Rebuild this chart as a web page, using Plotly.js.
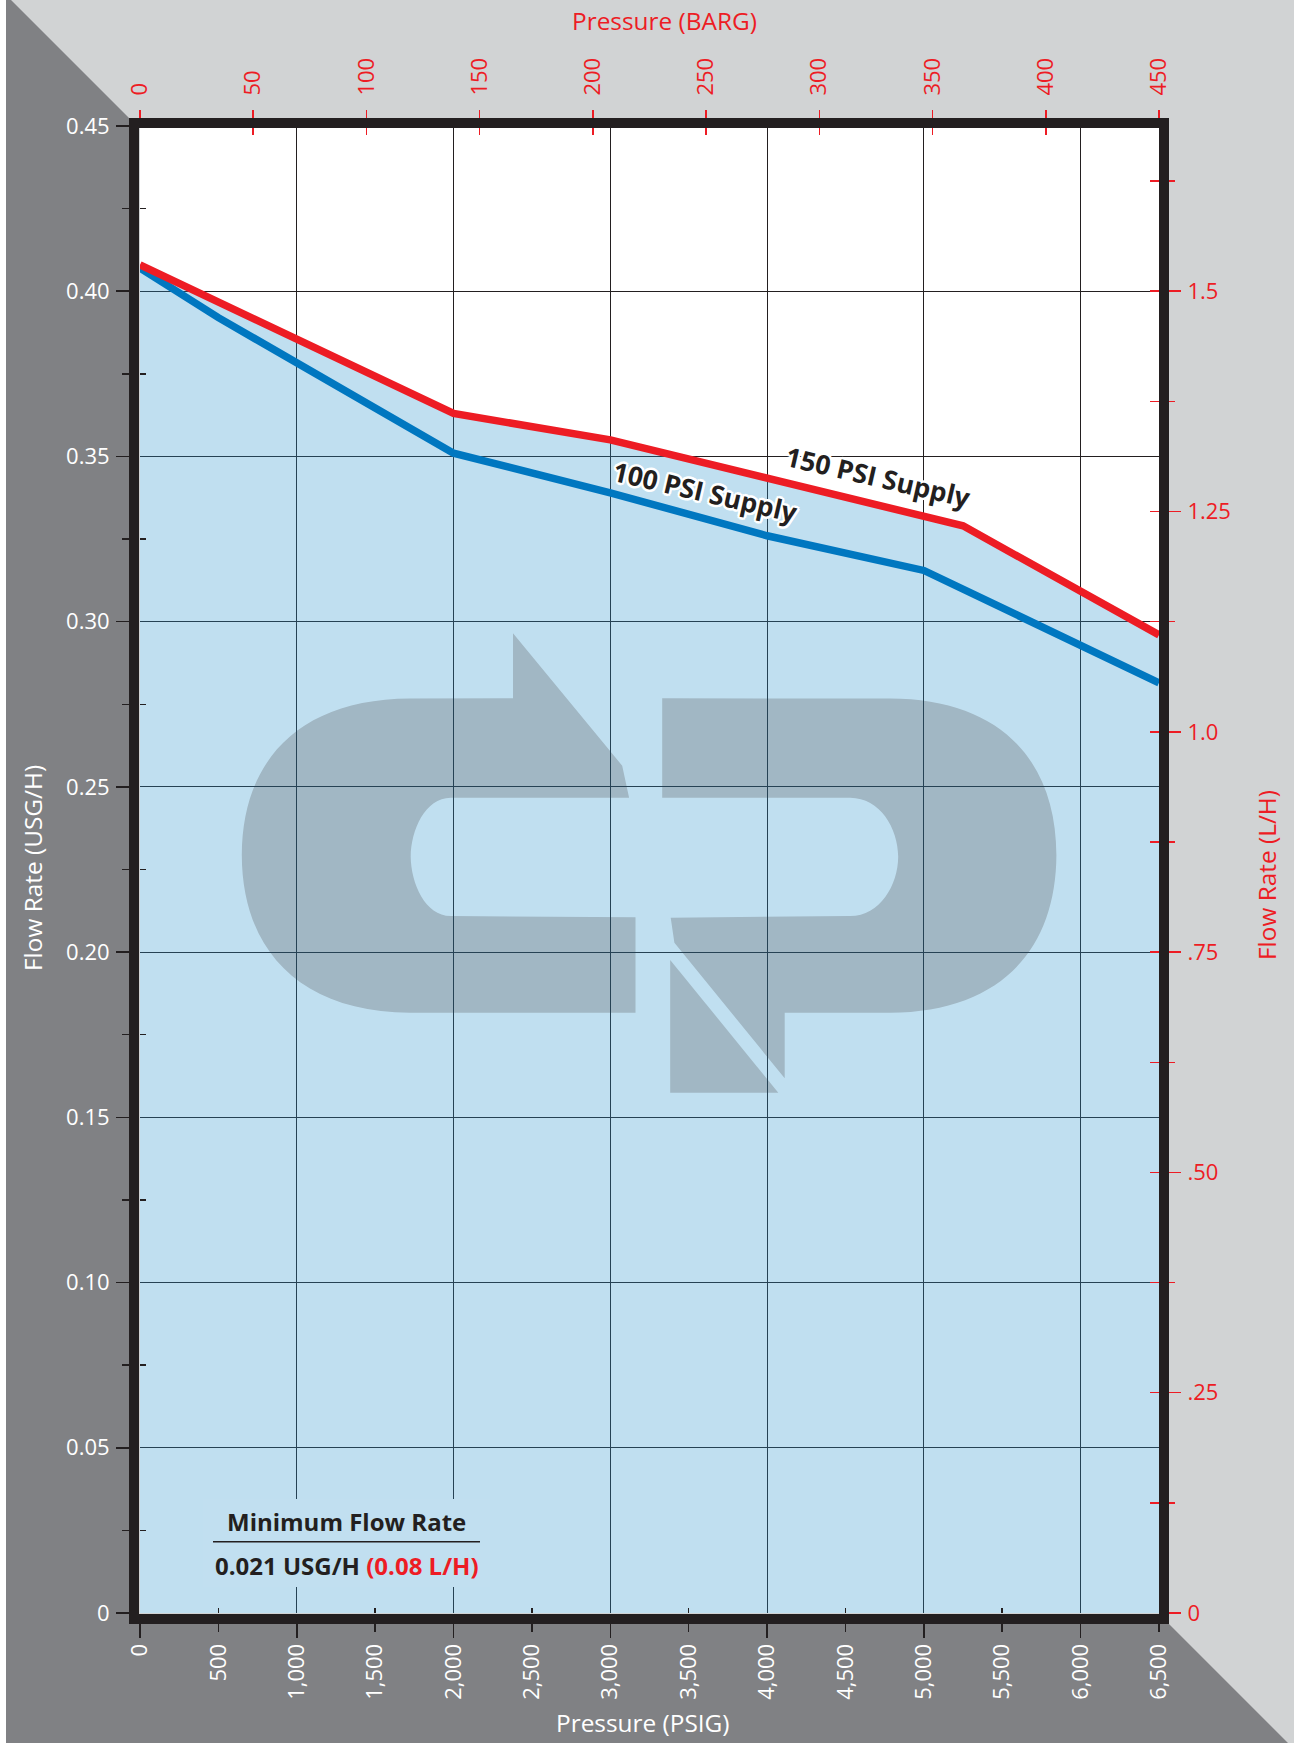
<!DOCTYPE html>
<html>
<head>
<meta charset="utf-8">
<script src="https://cdn.plot.ly/plotly-3.0.1.min.js"></script>
<style>
  html, body { margin: 0; padding: 0; background: #d1d3d4; }
  #chart { width: 1294px; height: 1743px; }
</style>
</head>
<body>
<div id="chart"></div>
<script>
// ---------------- DATA ----------------
const psig150 = [0, 2000, 3000, 5250, 6500];
const flow150 = [0.408, 0.363, 0.355, 0.329, 0.296];

const psig100 = [0, 500, 2000, 3000, 4000, 5000, 6500];
const flow100 = [0.407, 0.392, 0.351, 0.339, 0.326, 0.3155, 0.2815];

const usgTickVals = [0, 0.05, 0.10, 0.15, 0.20, 0.25, 0.30, 0.35, 0.40, 0.45];
const usgTickText = ['0', '0.05', '0.10', '0.15', '0.20', '0.25', '0.30', '0.35', '0.40', '0.45'];
const usgMinorVals = [0.025, 0.075, 0.125, 0.175, 0.225, 0.275, 0.325, 0.375, 0.425];

const psigTickVals = [0, 500, 1000, 1500, 2000, 2500, 3000, 3500, 4000, 4500, 5000, 5500, 6000, 6500];
const psigTickText = ['0', '500', '1,000', '1,500', '2,000', '2,500', '3,000', '3,500', '4,000', '4,500', '5,000', '5,500', '6,000', '6,500'];
const psigGridVals = [0, 1000, 2000, 3000, 4000, 5000, 6000];
const psigMinorVals = [500, 1500, 2500, 3500, 4500, 5500];

const bargTickVals = [0, 50, 100, 150, 200, 250, 300, 350, 400, 450];
const bargTickText = ['0', '50', '100', '150', '200', '250', '300', '350', '400', '450'];

const lphTickVals = [0, 0.25, 0.5, 0.75, 1.0, 1.25, 1.5];
const lphTickText = ['0', '.25', '.50', '.75', '1.0', '1.25', '1.5'];
const lphMinorVals = [0.125, 0.375, 0.625, 0.875, 1.125, 1.375, 1.625];
const lphAllVals = [0, 0.125, 0.25, 0.375, 0.5, 0.625, 0.75, 0.875, 1.0, 1.125, 1.25, 1.375, 1.5, 1.625];

const USG_MAX = 0.45;
const PSIG_MAX = 6500;
const BARG_MAX = 450;
const L_PER_USG = 3.75;

// ---------------- STYLE ----------------
const DARK = '#231f20';
const RED = '#ed1c24';
const BLUE = '#0077c0';
const LIGHT_GRAY = '#d1d3d4';
const DARK_GRAY = '#808184';
const TICK_FONT = 'Open Sans, Noto Sans, sans-serif';
const TITLE_FONT = 'Open Sans, Noto Sans, sans-serif';

// plot area in pixels
const W = 1294, H = 1743;
const M = { l: 140, r: 135, t: 126, b: 130 };
const PW = W - M.l - M.r, PH = H - M.t - M.b;
const PLOT_BOTTOM = M.t + PH;

function paperX(px) { return (px - M.l) / PW; }
function paperY(py) { return (PLOT_BOTTOM - py) / PH; }
function dataX(px) { return (px - M.l) / PW * PSIG_MAX; }
function dataY(py) { return (PLOT_BOTTOM - py) / PH * USG_MAX; }

function convertPath(d, fx, fy) {
  const toks = d.trim().split(/[\s,]+/);
  const out = [];
  let pending = null;
  for (const t of toks) {
    if (/^[A-Za-z]$/.test(t)) { out.push(t); continue; }
    const v = parseFloat(t);
    if (pending === null) { pending = v; }
    else { out.push(fx(pending).toFixed(5) + ',' + fy(v).toFixed(5)); pending = null; }
  }
  return out.join(' ');
}

// ---------------- TRACES ----------------
const traces = [
  { type: 'scatter', mode: 'lines', x: psig150, y: flow150, fill: 'tozeroy',
    fillcolor: 'rgba(48,148,205,0.3)', line: { width: 0 }, hoverinfo: 'skip', showlegend: false },
  { type: 'scatter', mode: 'lines', x: psig100, y: flow100, name: '100 PSI Supply',
    line: { color: BLUE, width: 7.5 }, showlegend: false },
  { type: 'scatter', mode: 'lines', x: psig150, y: flow150, name: '150 PSI Supply',
    line: { color: RED, width: 7.5 }, showlegend: false }
];
// carriers for the auxiliary axes
[['x2', 'y'], ['x3', 'y'], ['x4', 'y'], ['x5', 'y'], ['x', 'y2'], ['x', 'y3'], ['x', 'y4'], ['x', 'y5'], ['x', 'y6']]
  .forEach(([xa, ya]) => traces.push({ type: 'scatter', mode: 'lines', x: [], y: [], xaxis: xa, yaxis: ya,
    hoverinfo: 'skip', showlegend: false }));

// ---------------- AXES ----------------
const base = { zeroline: false, showline: false, fixedrange: true, automargin: false, tickmode: 'array' };

const layout = {
  width: W, height: H,
  margin: { l: M.l, r: M.r, t: M.t, b: M.b, pad: 0 },
  paper_bgcolor: LIGHT_GRAY,
  plot_bgcolor: '#ffffff',
  showlegend: false,
  font: { family: TICK_FONT, color: DARK },
  xaxis: Object.assign({}, base, {
    range: [0, PSIG_MAX], tickvals: psigTickVals, ticktext: psigTickText,
    ticks: 'outside', ticklen: 18, tickwidth: 1.5, tickcolor: DARK, tickangle: -90,
    tickfont: { family: TICK_FONT, size: 22, color: '#ffffff' }, ticklabelstandoff: 3, showgrid: false
  }),
  xaxis2: Object.assign({}, base, {
    overlaying: 'x', anchor: 'y', side: 'top', range: [0, BARG_MAX],
    tickvals: bargTickVals, ticktext: bargTickText,
    ticks: 'outside', ticklen: 15, tickwidth: 1.5, tickcolor: RED, tickangle: -90,
    tickfont: { family: TICK_FONT, size: 22, color: RED }, ticklabelstandoff: 10, showgrid: false
  }),
  xaxis3: Object.assign({}, base, {
    overlaying: 'x', anchor: 'y', side: 'bottom', range: [0, PSIG_MAX], tickvals: psigGridVals,
    ticks: 'outside', ticklen: 24, tickwidth: 1.5, tickcolor: DARK, showticklabels: false,
    showgrid: true, gridcolor: DARK, gridwidth: 1
  }),
  xaxis4: Object.assign({}, base, {
    overlaying: 'x', anchor: 'y', side: 'bottom', range: [0, PSIG_MAX], tickvals: psigMinorVals,
    ticks: 'inside', ticklen: 5, tickwidth: 1.5, tickcolor: DARK, showticklabels: false, showgrid: false
  }),
  xaxis5: Object.assign({}, base, {
    overlaying: 'x', anchor: 'y', side: 'top', range: [0, BARG_MAX], tickvals: bargTickVals,
    ticks: 'inside', ticklen: 9, tickwidth: 1.5, tickcolor: RED, showticklabels: false, showgrid: false
  }),
  yaxis: Object.assign({}, base, {
    range: [0, USG_MAX], tickvals: usgTickVals, ticktext: usgTickText,
    ticks: 'outside', ticklen: 23, tickwidth: 1.5, tickcolor: DARK,
    tickfont: { family: TICK_FONT, size: 22, color: '#ffffff' }, ticklabelstandoff: 2,
    showgrid: true, gridcolor: DARK, gridwidth: 1.2
  }),
  yaxis2: Object.assign({}, base, {
    overlaying: 'y', anchor: 'x', side: 'right', range: [0, USG_MAX * L_PER_USG],
    tickvals: lphTickVals, ticktext: lphTickText,
    ticks: 'outside', ticklen: 21, tickwidth: 1.5, tickcolor: RED,
    tickfont: { family: TICK_FONT, size: 22, color: RED }, ticklabelstandoff: 2, showgrid: false
  }),
  yaxis3: Object.assign({}, base, {
    overlaying: 'y', anchor: 'x', side: 'left', range: [0, USG_MAX], tickvals: usgMinorVals,
    ticks: 'outside', ticklen: 17, tickwidth: 1.5, tickcolor: DARK, showticklabels: false, showgrid: false
  }),
  yaxis4: Object.assign({}, base, {
    overlaying: 'y', anchor: 'x', side: 'left', range: [0, USG_MAX], tickvals: usgMinorVals,
    ticks: 'inside', ticklen: 6, tickwidth: 1.5, tickcolor: DARK, showticklabels: false, showgrid: false
  }),
  yaxis5: Object.assign({}, base, {
    overlaying: 'y', anchor: 'x', side: 'right', range: [0, USG_MAX * L_PER_USG], tickvals: lphMinorVals,
    ticks: 'outside', ticklen: 15, tickwidth: 1.5, tickcolor: RED, showticklabels: false, showgrid: false
  }),
  yaxis6: Object.assign({}, base, {
    overlaying: 'y', anchor: 'x', side: 'right', range: [0, USG_MAX * L_PER_USG], tickvals: lphAllVals,
    ticks: 'inside', ticklen: 9, tickwidth: 1.5, tickcolor: RED, showticklabels: false, showgrid: false
  })
};

// ---------------- DECORATION SHAPES ----------------
const darkPoly = convertPath(
  'M 6 0 L 11 0 L 129 118 L 129 1624 L 1169 1624 L 1288 1743 L 6 1743 Z', paperX, paperY);

const logoLeft = convertPath(
  'M 513 633.3 L 622.2 765.7 L 629.1 797.7 L 450.7 797.7 ' +
  'C 425 798 411 830 410.7 856.7 C 411 883 425 916 450.7 916 ' +
  'L 635.5 917.3 L 635.5 1012.7 L 410 1012.7 ' +
  'C 300 1012 242 950 241.8 855 C 242 760 300 699 410 698.5 ' +
  'L 513 698.3 Z', dataX, dataY);
const logoRight = convertPath(
  'M 662.2 698.3 L 890 698.5 C 1000 699 1056 760 1056.4 855 ' +
  'C 1056 950 1000 1012 890 1012.7 L 784.7 1012.7 L 784.7 1078.3 ' +
  'L 674.4 942.7 L 670.7 917.7 L 850.2 916 ' +
  'C 880 916 898 885 898.2 856.7 C 898 828 880 798 850.2 797.7 ' +
  'L 662.2 797.7 Z', dataX, dataY);
const logoTri = convertPath('M 670.2 960 L 670.2 1092.7 L 778.3 1092.7 Z', dataX, dataY);

const LOGO_COLOR = 'rgb(211,198,192)';

layout.shapes = [
  { type: 'rect', xref: 'paper', yref: 'paper', x0: paperX(0), x1: paperX(6), y0: paperY(H), y1: paperY(0),
    fillcolor: '#ffffff', line: { width: 0 }, layer: 'below' },
  { type: 'path', xref: 'paper', yref: 'paper', path: darkPoly, fillcolor: DARK_GRAY,
    line: { width: 0 }, layer: 'below' },
  { type: 'path', xref: 'x', yref: 'y', path: logoLeft, fillcolor: LOGO_COLOR, line: { width: 0 }, layer: 'below' },
  { type: 'path', xref: 'x', yref: 'y', path: logoRight, fillcolor: LOGO_COLOR, line: { width: 0 }, layer: 'below' },
  { type: 'path', xref: 'x', yref: 'y', path: logoTri, fillcolor: LOGO_COLOR, line: { width: 0 }, layer: 'below' },
  // background of the minimum-flow note
  { type: 'rect', xref: 'paper', yref: 'paper', x0: paperX(203), x1: paperX(490), y0: paperY(1587), y1: paperY(1499),
    fillcolor: '#c1dff0', line: { width: 0 }, layer: 'above' },
  { type: 'line', xref: 'paper', yref: 'paper', x0: paperX(213), x1: paperX(480), y0: paperY(1541.7), y1: paperY(1541.7),
    line: { color: DARK, width: 1.5 }, layer: 'above' },
  // heavy frame
  { type: 'rect', xref: 'paper', yref: 'paper', x0: paperX(134), x1: paperX(1164), y0: paperY(1619), y1: paperY(123),
    line: { color: DARK, width: 10 }, fillcolor: 'rgba(0,0,0,0)', layer: 'above' }
];

// ---------------- TEXT ----------------
const halo = '2.5px 0 0 #fff, -2.5px 0 0 #fff, 0 2.5px 0 #fff, 0 -2.5px 0 #fff, ' +
             '1.8px 1.8px 0 #fff, -1.8px -1.8px 0 #fff, 1.8px -1.8px 0 #fff, -1.8px 1.8px 0 #fff';

layout.annotations = [
  { text: 'Pressure (BARG)', xref: 'paper', yref: 'paper', x: paperX(664), y: paperY(20),
    xanchor: 'center', yanchor: 'middle', showarrow: false,
    font: { family: TITLE_FONT, size: 24.4, color: RED } },
  { text: 'Pressure (PSIG)', xref: 'paper', yref: 'paper', x: paperX(643), y: paperY(1722),
    xanchor: 'center', yanchor: 'middle', showarrow: false,
    font: { family: TITLE_FONT, size: 24.4, color: '#ffffff' } },
  { text: 'Flow Rate (USG/H)', xref: 'paper', yref: 'paper', x: paperX(32), y: paperY(868),
    xanchor: 'center', yanchor: 'middle', showarrow: false, textangle: -90,
    font: { family: TITLE_FONT, size: 24.4, color: '#ffffff' } },
  { text: 'Flow Rate (L/H)', xref: 'paper', yref: 'paper', x: paperX(1267), y: paperY(875),
    xanchor: 'center', yanchor: 'middle', showarrow: false, textangle: -90,
    font: { family: TITLE_FONT, size: 24.4, color: RED } },
  { text: '<b>150 PSI Supply</b>', xref: 'x', yref: 'y', x: 4709, y: 0.3439,
    xanchor: 'center', yanchor: 'middle', showarrow: false, textangle: 13,
    font: { family: TICK_FONT, size: 26.5, color: DARK, shadow: halo } },
  { text: '<b>100 PSI Supply</b>', xref: 'x', yref: 'y', x: 3608, y: 0.3393,
    xanchor: 'center', yanchor: 'middle', showarrow: false, textangle: 13,
    font: { family: TICK_FONT, size: 26.5, color: DARK, shadow: halo } },
  { text: '<b>Minimum Flow Rate</b>', xref: 'paper', yref: 'paper', x: paperX(346.5), y: paperY(1521.5),
    xanchor: 'center', yanchor: 'middle', showarrow: false,
    font: { family: TICK_FONT, size: 24, color: DARK } },
  { text: '<b>0.021 USG/H <span style="color:' + RED + '">(0.08 L/H)</span></b>', xref: 'paper', yref: 'paper',
    x: paperX(346.5), y: paperY(1565), xanchor: 'center', yanchor: 'middle', showarrow: false,
    font: { family: TICK_FONT, size: 24, color: DARK } }
];

Plotly.newPlot('chart', traces, layout, { staticPlot: true, displayModeBar: false });
</script>
</body>
</html>
